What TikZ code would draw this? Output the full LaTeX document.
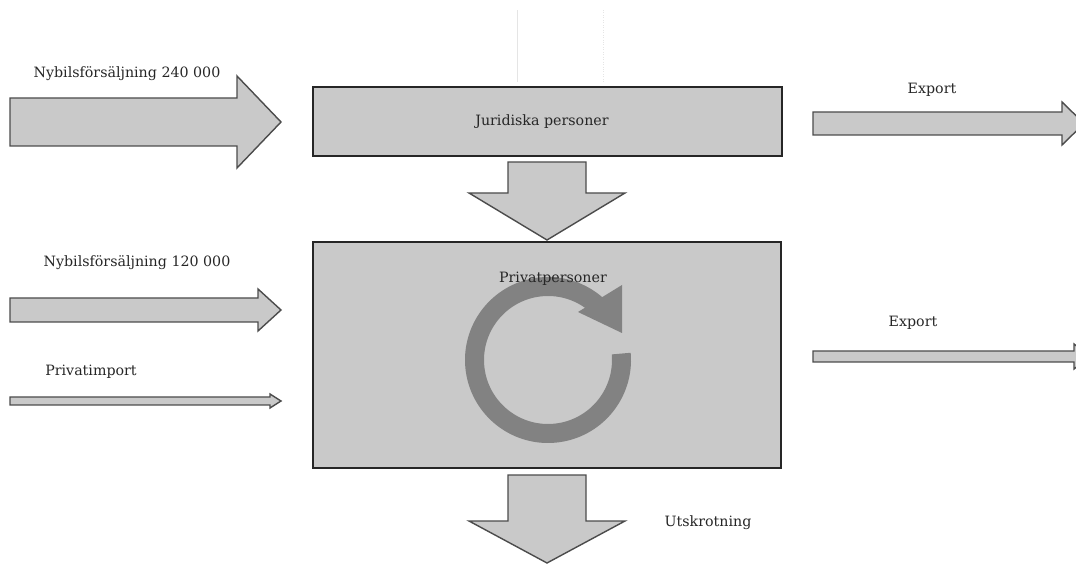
\documentclass[tikz,border=0pt]{standalone}
\usepackage{fontspec}
\setmainfont{DejaVu Serif}
\definecolor{boxgray}{RGB}{201,201,201}
\definecolor{loopgray}{RGB}{130,130,130}
\begin{document}
\begin{tikzpicture}[x=0.02cm,y=-0.02cm,
    flowbox/.style={fill=boxgray,draw=black!85,line width=1.3pt},
    blockarrow/.style={fill=boxgray,draw=black!70,line width=0.8pt,line join=miter},
    flowlabel/.style={text=black!85,inner sep=0pt,font=\fontsize{8.1}{9.5}\selectfont}]
    \clip (0,0) rectangle (1076,564);
    % faint guide lines at the top
    \draw[black!10] (517,10) -- (517,82);
    \draw[black!10,densely dotted] (603,10) -- (603,82);
    % boxes
    \draw[flowbox] (313,87) rectangle (782,156);
    \draw[flowbox] (313,242) rectangle (781,468);
    \node[flowlabel] (jur) at (542,122) {Juridiska personer};
    % loop inside Privatpersoner
    \fill[loopgray,shift={(548,360)}] (-5:83) arc[start angle=-5,end angle=311,radius=83]
        -- (311:64) arc[start angle=311,end angle=-5,radius=64] -- cycle;
    \fill[loopgray] (622,285) -- (578,312) -- (622,333) -- cycle;
    \node[flowlabel] (priv) at (553,279) {Privatpersoner};
    % arrows in from the left
    \draw[blockarrow] (10,98) -- (237,98) -- (237,76) -- (281,122) -- (237,168) -- (237,146) -- (10,146) -- cycle;
    \draw[blockarrow] (10,298) -- (258,298) -- (258,289) -- (281,310) -- (258,331) -- (258,322) -- (10,322) -- cycle;
    \draw[blockarrow] (10,397) -- (270,397) -- (270,394) -- (281,401) -- (270,408) -- (270,405) -- (10,405) -- cycle;
    \node[flowlabel] (nyb1) at (127,74) {Nybilsförsäljning 240 000};
    \node[flowlabel] (nyb2) at (137,263) {Nybilsförsäljning 120 000};
    \node[flowlabel] (imp) at (91,372) {Privatimport};
    % arrows down
    \draw[blockarrow] (508,162) -- (586,162) -- (586,193) -- (625,193) -- (547,240) -- (469,193) -- (508,193) -- cycle;
    \draw[blockarrow] (508,475) -- (586,475) -- (586,521) -- (625,521) -- (547,563) -- (469,521) -- (508,521) -- cycle;
    \node[flowlabel] (skrot) at (708,523) {Utskrotning};
    % arrows out to the right
    \draw[blockarrow] (813,112) -- (1062,112) -- (1062,102) -- (1084,123.5) -- (1062,145) -- (1062,135) -- (813,135) -- cycle;
    \draw[blockarrow] (813,351) -- (1074,351) -- (1074,344) -- (1090,356.5) -- (1074,369) -- (1074,362) -- (813,362) -- cycle;
    \node[flowlabel] (exp1) at (932,90) {Export};
    \node[flowlabel] (exp2) at (913,323) {Export};
\end{tikzpicture}
\end{document}
